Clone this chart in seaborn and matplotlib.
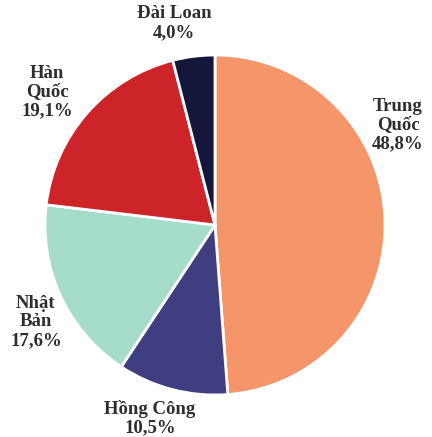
import matplotlib
matplotlib.use("Agg")
import matplotlib.pyplot as plt
import seaborn as sns

# Market shares (%)
markets = ["Trung\nQuốc", "Hồng Công", "Nhật\nBản", "Hàn\nQuốc", "Đài Loan"]
shares = [48.8, 10.5, 17.6, 19.1, 4.0]
share_labels = ["48,8%", "10,5%", "17,6%", "19,1%", "4,0%"]
palette = sns.color_palette(["#F5956A", "#3E3E80", "#A6DCCA", "#CC2429", "#15163C"])

sns.set_theme(style="white")
plt.rcParams["font.family"] = ["Liberation Serif", "DejaVu Serif"]

W, H = 432, 437
fig = plt.figure(figsize=(W / 100, H / 100), dpi=100)
ax = fig.add_axes([0, 0, 1, 1])

cx, cy, r = 215, H - 225, 170
ax.pie(shares, colors=palette, startangle=90, counterclock=False,
       center=(cx, cy), radius=r, frame=True,
       wedgeprops=dict(edgecolor="white", linewidth=2))
ax.set_xlim(0, W)
ax.set_ylim(0, H)
ax.set_aspect("equal")
ax.axis("off")

# label block centres (pixels from top-left)
label_xy = [(398, 125), (150, 418), (36, 322), (47, 92), (174, 23)]
for name, pct, (x, y) in zip(markets, share_labels, label_xy):
    ax.text(x, H - y, f"{name}\n{pct}", ha="center", va="center",
            fontsize=13.5, fontweight="bold", color="#2e2e2e",
            linespacing=1.12)

fig.savefig("out.png", dpi=100, facecolor="white")
